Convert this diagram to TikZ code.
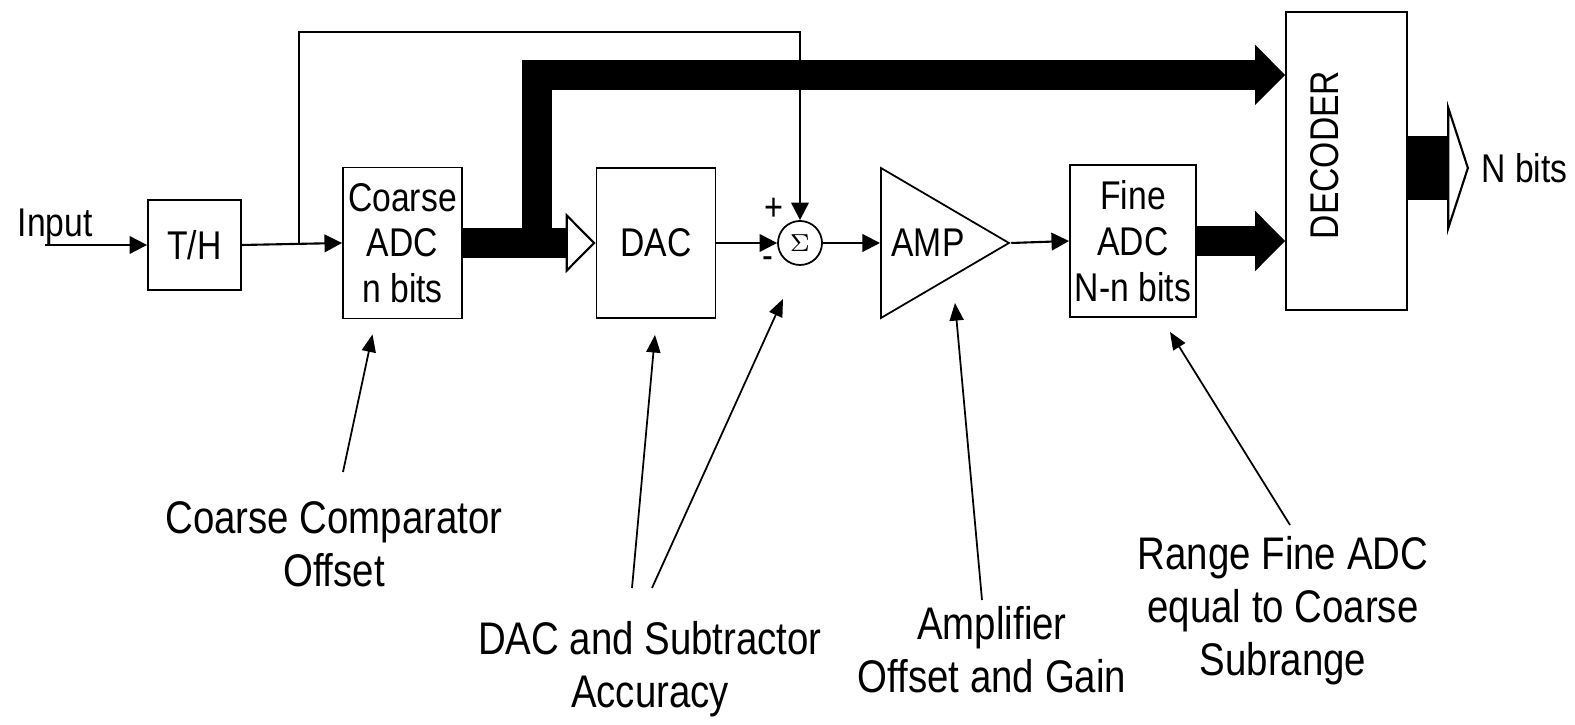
\documentclass[tikz,border=0pt]{standalone}
\usepackage{fontspec}
\setmainfont{Liberation Sans}[FakeStretch=0.84]
\usepackage{tikz}
\usepackage{xcolor}
\usetikzlibrary{shapes.geometric,arrows.meta,positioning,calc}
\tikzset{
    % Plain boxes
    block/.style={
        rectangle,
        draw=black,
        line width=0.5pt,
        fill=white,
        inner sep=1pt,
        align=center,
        font=\fontsize{11.4pt}{13pt}\selectfont
    },
    sumnode/.style={
        circle,
        draw=black,
        line width=0.5pt,
        minimum size=0.44cm,
        inner sep=0pt,
        font=\fontsize{7.5pt}{8pt}\selectfont
    },
    ampnode/.style={
        isosceles triangle,
        isosceles triangle stretches,
        draw=black,
        line width=0.5pt,
        minimum width=1.50cm,
        minimum height=1.28cm,
        inner sep=0pt,
        font=\fontsize{11.4pt}{13pt}\selectfont
    },
    sign/.style={
        inner sep=0pt,
        font=\fontsize{11pt}{12pt}\selectfont
    },
    note label/.style={
        anchor=north,
        inner sep=0pt,
        align=center,
        font=\fontsize{13pt}{15pt}\selectfont
    },
    sig line/.style={
        -{Triangle[length=5pt,width=5pt]},
        line width=0.6pt,
        color=black
    },
    note arrow/.style={
        -{Triangle[length=5pt,width=4pt]},
        line width=0.5pt,
        color=black
    },
    bus/.style={
        line width=8.5pt,
        color=black
    },
    wide bus/.style={
        line width=18.4pt,
        color=black
    }
}

\begin{document}
\begin{tikzpicture}[x=0.01cm, y=-0.01cm]
    \useasboundingbox (0,0) rectangle (1575,725);

    % Signal path
    \node[anchor=base west, inner sep=0pt, font=\fontsize{11.4pt}{13pt}\selectfont]
          (inp) at (17,237) {Input};
    \coordinate (src) at (45,245);
    \node[block, minimum width=0.93cm, minimum height=0.90cm] (th) at (194.5,245) {T/H};
    \coordinate (jn) at (299,245);
    \node[block, minimum width=1.19cm, minimum height=1.51cm] (cadc) at (402.5,243)
          {Coarse\\ADC\\n bits};
    \node[block, minimum width=1.19cm, minimum height=1.50cm] (dac) at (656,243) {DAC};
    \node[sumnode] (sum) at (800,243) {$\Sigma$};
    \node[sign] (plus) at (774,209) {+};
    \node[sign] (minus) at (768,263) {-};
    \node[ampnode, anchor=west] (amp) at (880,243) {AMP};
    \node[block, minimum width=1.26cm, minimum height=1.52cm] (fadc) at (1133,241)
          {Fine\\ADC\\N-n bits};
    \node[block, minimum width=1.21cm, minimum height=2.98cm] (dec) at (1346.5,161) {};
    \node[rotate=90, inner sep=0pt, font=\fontsize{11.4pt}{13pt}\selectfont]
          (dectext) at (1325,155) {DECODER};
    \node[anchor=west, font=\fontsize{11.4pt}{13pt}\selectfont] (nbits) at (1469,168) {N bits};

    % Connections
    \draw[sig line] (src) -- (th.west);
    \draw[sig line] (th.east) -- (cadc.west);
    \draw[sig line] (jn) -- (jn |- 0,32) -| (sum.north);
    \draw[sig line] (dac.east) -- (sum.west);
    \draw[sig line] (sum.east) -- (amp.west);
    \draw[sig line] (amp.east) -- (fadc.west);

    % Buses
    \coordinate (br) at (537,243);
    \draw[bus, -{Triangle[length=8.5pt 0, width=17pt 0, fill=black, line width=0.6pt 0]}]
          (br) |- ([yshift=0.86cm]dec.west);
    \draw[bus, -{Triangle[length=8.5pt 0, width=17pt 0, fill=white, line width=0.6pt 0]}]
          (cadc.east) -- (dac.west);
    \draw[bus, -{Triangle[length=8.5pt 0, width=17pt 0, fill=black, line width=0.6pt 0]}]
          (fadc.east) -- (fadc.east -| dec.west);
    \draw[wide bus, -{Triangle[length=6.2pt 0, width=38pt 0, fill=white, line width=0.6pt 0]}]
          (dec.east |- nbits) -- (nbits.west);

    % Error sources
    \node[note label] (coc) at (334,501) {Coarse Comparator\\Offset};
    \node[note label] (dsa) at (650,621) {DAC and Subtractor\\Accuracy};
    \node[note label] (aog) at (992,606) {Amplifier\\Offset and Gain};
    \node[note label] (rfa) at (1283,536) {Range Fine ADC\\equal to Coarse\\Subrange};

    \draw[note arrow] ([shift={(9,-29)}]coc.north) -- ([shift={(-30,15)}]cadc.south);
    \draw[note arrow] ([shift={(-18,-33)}]dsa.north) -- ([shift={(-1,16)}]dac.south);
    \draw[note arrow] ([shift={(2,-33)}]dsa.north) -- ([shift={(-17,33)}]sum.south);
    \draw[note arrow] ([shift={(-10,-6)}]aog.north) -- ([shift={(75,60)}]amp.west);
    \draw[note arrow] ([shift={(7,-11)}]rfa.north) -- ([shift={(37,14)}]fadc.south);
\end{tikzpicture}
\end{document}
